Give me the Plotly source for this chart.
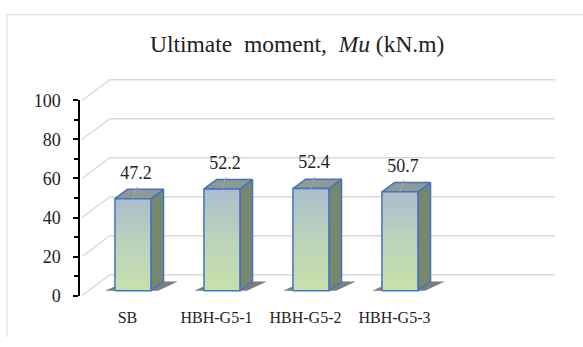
import plotly.graph_objects as go

# ---- data -------------------------------------------------------------
categories = ["SB", "HBH-G5-1", "HBH-G5-2", "HBH-G5-3"]
mu_values = [47.2, 52.2, 52.4, 50.7]
y_ticks = [0, 20, 40, 60, 80, 100]

# ---- canvas & oblique projection settings ----------------------------
W, H = 583, 347
ORIGIN_X, ORIGIN_Y = 82, 303      # screen position of front-left floor corner
PX_PER_CAT = 89                   # width of one category slot
PX_PER_UNIT = 2.07                # pixels per kN.m on the value axis
WALL_SHIFT = (28, -22)            # screen shift from front plane to back wall
N_SLOTS = 5                       # category slots along the floor

DX = WALL_SHIFT[0] / PX_PER_CAT
DY = -WALL_SHIFT[1] / PX_PER_UNIT

BAR_W = 36 / PX_PER_CAT
BAR_FRONT, BAR_BACK = 0.23, 0.68  # bar depth inside the box (0 front, 1 back)

FONT = "Times New Roman, Liberation Serif, DejaVu Serif, serif"


def proj(u, v, d):
    """Map (category position, value, depth) to flat axis coordinates."""
    return u + d * DX, v + d * DY


def poly(points):
    xs, ys = [], []
    for u, v, d in points:
        x, y = proj(u, v, d)
        xs.append(x)
        ys.append(y)
    xs.append(xs[0])
    ys.append(ys[0])
    return xs, ys


fig = go.Figure()

# ---- walls: left-wall diagonals + back-wall gridlines -----------------
gx, gy = [], []
for t in y_ticks:
    for u, d in [(0, 0), (0, 1), (N_SLOTS, 1)]:
        x, y = proj(u, t, d)
        gx.append(x)
        gy.append(y)
    gx.append(None)
    gy.append(None)
fig.add_trace(go.Scatter(x=gx, y=gy, mode="lines",
                         line=dict(color="#d9d9d9", width=1.4),
                         hoverinfo="skip", showlegend=False))

# ---- bars -------------------------------------------------------------
OUTLINE = dict(color="#4472c4", width=1.5)
for i, val in enumerate(mu_values):
    c = i + 0.5
    l, r = c - BAR_W / 2, c + BAR_W / 2
    f0, f1 = BAR_FRONT, BAR_BACK

    # floor shadow
    sx, sy = poly([(l - 0.11, 0, f0), (r + 0.08, 0, f0),
                   (r + 0.16, 0, f1), (l - 0.02, 0, f1)])
    fig.add_trace(go.Scatter(x=sx, y=sy, mode="lines", fill="toself",
                             fillcolor="rgba(70,70,70,0.7)",
                             line=dict(width=0), hoverinfo="skip",
                             showlegend=False))

    # side face
    xs, ys = poly([(r, 0, f0), (r, 0, f1), (r, val, f1), (r, val, f0)])
    fig.add_trace(go.Scatter(x=xs, y=ys, mode="lines", fill="toself",
                             fillcolor="#76876c", line=OUTLINE,
                             hoverinfo="skip", showlegend=False))

    # top face
    xs, ys = poly([(l, val, f0), (r, val, f0), (r, val, f1), (l, val, f1)])
    fig.add_trace(go.Scatter(x=xs, y=ys, mode="lines", fill="toself",
                             fillcolor="#8d9a95", line=OUTLINE,
                             hoverinfo="skip", showlegend=False))

    # front face with gradient
    xs, ys = poly([(l, 0, f0), (r, 0, f0), (r, val, f0), (l, val, f0)])
    fig.add_trace(go.Scatter(
        x=xs, y=ys, mode="lines", fill="toself",
        fillgradient=dict(type="vertical",
                          colorscale=[[0, "#c6e1aa"], [0.5, "#bcd3bb"],
                                      [1, "#abbdcc"]]),
        line=OUTLINE, hoverinfo="skip", showlegend=False))

    # leader line and value label
    lx0, ly0 = proj(c, val, f0)
    lx1, ly1 = proj(c + 4 / PX_PER_CAT, val + 6, f0)
    fig.add_trace(go.Scatter(x=[lx0, lx1], y=[ly0, ly1], mode="lines",
                             line=dict(color="#a6a6a6", width=1),
                             hoverinfo="skip", showlegend=False))
    tx, ty = proj(c + 3 / PX_PER_CAT, val + 12.6, f0)
    fig.add_trace(go.Scatter(x=[tx], y=[ty], mode="text", text=[f"{val}"],
                             textposition="middle center",
                             textfont=dict(family=FONT, size=18, color="#222222"),
                             hoverinfo="skip", showlegend=False))

# invisible trace that carries the visible value axis
fig.add_trace(go.Scatter(x=[None], y=[None], yaxis="y2", showlegend=False,
                         hoverinfo="skip"))

x_range = [-ORIGIN_X / PX_PER_CAT, (W - ORIGIN_X) / PX_PER_CAT]
y_range = [(ORIGIN_Y - H) / PX_PER_UNIT, ORIGIN_Y / PX_PER_UNIT]

axis_bottom = (H - ORIGIN_Y) / H
axis_top = (H - (ORIGIN_Y - 100 * PX_PER_UNIT)) / H
label_row = (H - 314) / H

fig.update_layout(
    width=W, height=H,
    margin=dict(l=0, r=0, t=0, b=0),
    paper_bgcolor="white", plot_bgcolor="rgba(0,0,0,0)",
    showlegend=False,
    xaxis=dict(range=x_range, showgrid=False, zeroline=False, showline=False,
               ticks="", anchor="free", position=label_row,
               tickmode="array",
               tickvals=[i + 0.5 + 1 / PX_PER_CAT for i in range(len(categories))],
               ticktext=categories,
               tickfont=dict(family=FONT, size=16, color="#222222"),
               fixedrange=True),
    yaxis=dict(range=y_range, visible=False, fixedrange=True),
    yaxis2=dict(range=[0, 100], domain=[axis_bottom, axis_top],
                anchor="free", position=79 / W,
                tickmode="array", tickvals=y_ticks,
                showgrid=False, zeroline=False,
                showline=True, linecolor="#000000", linewidth=1.5,
                ticks="outside", ticklen=5, tickwidth=1.5, tickcolor="#000000",
                ticklabelstandoff=9,
                minor=dict(dtick=10, ticks="outside", ticklen=4,
                           tickwidth=1.5, tickcolor="#000000"),
                tickfont=dict(family=FONT, size=18, color="#222222"),
                fixedrange=True),
    annotations=[dict(
        text="Ultimate\u00a0 moment,\u00a0 <i>Mu</i> (kN.m)",
        x=297 / W, y=1 - 36 / H, xref="paper", yref="paper",
        xanchor="center", yanchor="middle", showarrow=False,
        font=dict(family=FONT, size=23.5, color="#222222"))],
    shapes=[
        dict(type="line", xref="paper", yref="paper",
             x0=7 / W, x1=1, y0=1 - 5 / H, y1=1 - 5 / H,
             line=dict(color="#d9d9d9", width=1)),
        dict(type="line", xref="paper", yref="paper",
             x0=7 / W, x1=7 / W, y0=0, y1=1 - 5 / H,
             line=dict(color="#d9d9d9", width=1)),
    ],
)

fig.write_html("out.html")
